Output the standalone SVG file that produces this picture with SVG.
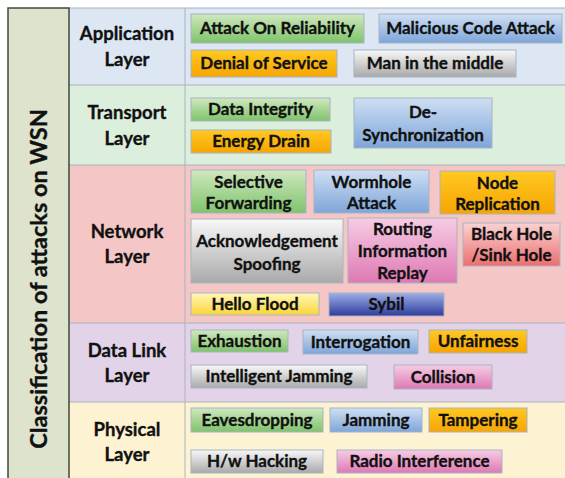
<svg xmlns="http://www.w3.org/2000/svg" width="565" height="478" viewBox="0 0 565 478">
<defs>
<linearGradient id="gGreen" x1="0" y1="0" x2="0" y2="1"><stop offset="0" stop-color="#cfe8bf"/><stop offset="1" stop-color="#7fc36b"/></linearGradient>
<linearGradient id="gBlue" x1="0" y1="0" x2="0" y2="1"><stop offset="0" stop-color="#cfdff3"/><stop offset="1" stop-color="#7ea5d9"/></linearGradient>
<linearGradient id="gOrange" x1="0" y1="0" x2="0" y2="1"><stop offset="0" stop-color="#ffc823"/><stop offset="1" stop-color="#f7a500"/></linearGradient>
<linearGradient id="gGrey" x1="0" y1="0" x2="0" y2="1"><stop offset="0" stop-color="#f8f8f8"/><stop offset="1" stop-color="#a9a9a9"/></linearGradient>
<linearGradient id="gPink" x1="0" y1="0" x2="0" y2="1"><stop offset="0" stop-color="#f6cde3"/><stop offset="1" stop-color="#df78b4"/></linearGradient>
<linearGradient id="gRed" x1="0" y1="0" x2="0" y2="1"><stop offset="0" stop-color="#f9d2d2"/><stop offset="1" stop-color="#ec6e6e"/></linearGradient>
<linearGradient id="gYellow" x1="0" y1="0" x2="0" y2="1"><stop offset="0" stop-color="#fff7b8"/><stop offset="1" stop-color="#fbd53a"/></linearGradient>
<linearGradient id="gNavy" x1="0" y1="0" x2="0" y2="1"><stop offset="0" stop-color="#9eaee6"/><stop offset="1" stop-color="#2d3c9c"/></linearGradient>
</defs>
<style>
text{font-family:"Lato","Open Sans","Liberation Sans",sans-serif;font-weight:bold;fill:#111;stroke:#111;stroke-width:0.35;text-anchor:middle}
.lay{font-size:18.5px}
.bx{font-size:17px}
.box{stroke:#a8b4c4;stroke-width:1}
.sep{stroke:#a9b3bf;stroke-width:1}
.title{font-size:23.5px}
</style>
<rect width="565" height="478" fill="#ffffff"/>
<!-- rows -->
<rect x="69" y="8" width="496" height="77" fill="#dce7f3"/>
<rect x="69" y="85" width="496" height="80" fill="#dcefdc"/>
<rect x="69" y="165" width="496" height="158" fill="#f5c6c6"/>
<rect x="69" y="323" width="496" height="79" fill="#e3d3e8"/>
<rect x="69" y="402" width="496" height="76" fill="#fdf3d2"/>
<g class="sep">
<line x1="69" y1="85" x2="565" y2="85"/>
<line x1="69" y1="165" x2="565" y2="165"/>
<line x1="69" y1="323" x2="565" y2="323"/>
<line x1="69" y1="402" x2="565" y2="402"/>
<line x1="185" y1="8" x2="185" y2="478"/>
<line x1="69" y1="8" x2="565" y2="8"/>
</g>
<!-- title column -->
<g id="title">
<rect x="8" y="8" width="61" height="472" fill="#dde3cc" stroke="#3d4a3b" stroke-width="1.5"/>
<text class="title" transform="translate(47,279) rotate(-90)">Classification of attacks on WSN</text>
</g>
<!-- layer labels -->
<g id="app-layer"><text class="lay" x="127" y="40">Application</text><text class="lay" x="127" y="66">Layer</text></g>
<g id="transport-layer"><text class="lay" x="127" y="119">Transport</text><text class="lay" x="127" y="145">Layer</text></g>
<g id="network-layer"><text class="lay" x="127" y="238">Network</text><text class="lay" x="127" y="263">Layer</text></g>
<g id="datalink-layer"><text class="lay" x="127" y="357">Data Link</text><text class="lay" x="127" y="382">Layer</text></g>
<g id="physical-layer"><text class="lay" x="127" y="436">Physical</text><text class="lay" x="127" y="461">Layer</text></g>
<!-- application boxes -->
<g id="attack-reliability"><rect class="box" x="191" y="14" width="173" height="29" fill="url(#gGreen)"/><text class="bx" x="277.5" y="34">Attack On Reliability</text></g>
<g id="malicious-code"><rect class="box" x="379" y="14" width="183" height="29" fill="url(#gBlue)"/><text class="bx" x="470.5" y="34">Malicious Code Attack</text></g>
<g id="dos"><rect class="box" x="191" y="50" width="146" height="27" fill="url(#gOrange)"/><text class="bx" x="264" y="69">Denial of Service</text></g>
<g id="mitm"><rect class="box" x="354" y="50" width="162" height="27" fill="url(#gGrey)"/><text class="bx" x="435" y="69">Man in the middle</text></g>
<!-- transport boxes -->
<g id="data-integrity"><rect class="box" x="191" y="98" width="139" height="23" fill="url(#gGreen)"/><text class="bx" x="260.5" y="115">Data Integrity</text></g>
<g id="energy-drain"><rect class="box" x="191" y="130" width="140" height="23" fill="url(#gOrange)"/><text class="bx" x="261" y="147">Energy Drain</text></g>
<g id="desync"><rect class="box" x="354" y="98" width="138" height="50" fill="url(#gBlue)"/><text class="bx" x="423" y="118">De-</text><text class="bx" x="423" y="141">Synchronization</text></g>
<!-- network boxes -->
<g id="selective-forwarding"><rect class="box" x="191" y="170" width="115" height="43" fill="url(#gGreen)"/><text class="bx" x="248.5" y="188">Selective</text><text class="bx" x="248.5" y="209">Forwarding</text></g>
<g id="wormhole"><rect class="box" x="314" y="170" width="115" height="43" fill="url(#gBlue)"/><text class="bx" x="371.5" y="188">Wormhole</text><text class="bx" x="371.5" y="209">Attack</text></g>
<g id="node-replication"><rect class="box" x="440" y="171" width="115" height="43" fill="url(#gOrange)"/><text class="bx" x="497.5" y="189">Node</text><text class="bx" x="497.5" y="210">Replication</text></g>
<g id="ack-spoofing"><rect class="box" x="191" y="219" width="152" height="64" fill="url(#gGrey)"/><text class="bx" x="267" y="247">Acknowledgement</text><text class="bx" x="267" y="270">Spoofing</text></g>
<g id="routing-replay"><rect class="box" x="348" y="218" width="109" height="65" fill="url(#gPink)"/><text class="bx" x="402.5" y="235">Routing</text><text class="bx" x="402.5" y="257">Information</text><text class="bx" x="402.5" y="279">Replay</text></g>
<g id="black-hole"><rect class="box" x="463" y="223" width="97" height="43" fill="url(#gRed)"/><text class="bx" x="511.5" y="240">Black Hole</text><text class="bx" x="511.5" y="261">/Sink Hole</text></g>
<g id="hello-flood"><rect class="box" x="191" y="293" width="128" height="22" fill="url(#gYellow)"/><text class="bx" x="255" y="310">Hello Flood</text></g>
<g id="sybil"><rect class="box" x="329" y="293" width="115" height="23" fill="url(#gNavy)"/><text class="bx" x="386.5" y="310">Sybil</text></g>
<!-- data link boxes -->
<g id="exhaustion"><rect class="box" x="191" y="330" width="97" height="22" fill="url(#gGreen)"/><text class="bx" x="239.5" y="347">Exhaustion</text></g>
<g id="interrogation"><rect class="box" x="303" y="330" width="115" height="24" fill="url(#gBlue)"/><text class="bx" x="360.5" y="348">Interrogation</text></g>
<g id="unfairness"><rect class="box" x="429" y="330" width="98" height="23" fill="url(#gOrange)"/><text class="bx" x="478" y="347">Unfairness</text></g>
<g id="intelligent-jamming"><rect class="box" x="191" y="365" width="176" height="23" fill="url(#gGrey)"/><text class="bx" x="279" y="382">Intelligent Jamming</text></g>
<g id="collision"><rect class="box" x="394" y="365" width="98" height="24" fill="url(#gPink)"/><text class="bx" x="443" y="383">Collision</text></g>
<!-- physical boxes -->
<g id="eavesdropping"><rect class="box" x="191" y="408" width="132" height="24" fill="url(#gGreen)"/><text class="bx" x="257" y="426">Eavesdropping</text></g>
<g id="jamming"><rect class="box" x="330" y="408" width="92" height="24" fill="url(#gBlue)"/><text class="bx" x="376" y="426">Jamming</text></g>
<g id="tampering"><rect class="box" x="429" y="408" width="98" height="24" fill="url(#gOrange)"/><text class="bx" x="478" y="426">Tampering</text></g>
<g id="hw-hacking"><rect class="box" x="191" y="450" width="132" height="23" fill="url(#gGrey)"/><text class="bx" x="257" y="467">H/w Hacking</text></g>
<g id="radio-interference"><rect class="box" x="337" y="450" width="165" height="23" fill="url(#gPink)"/><text class="bx" x="419.5" y="467">Radio Interference</text></g>
</svg>
